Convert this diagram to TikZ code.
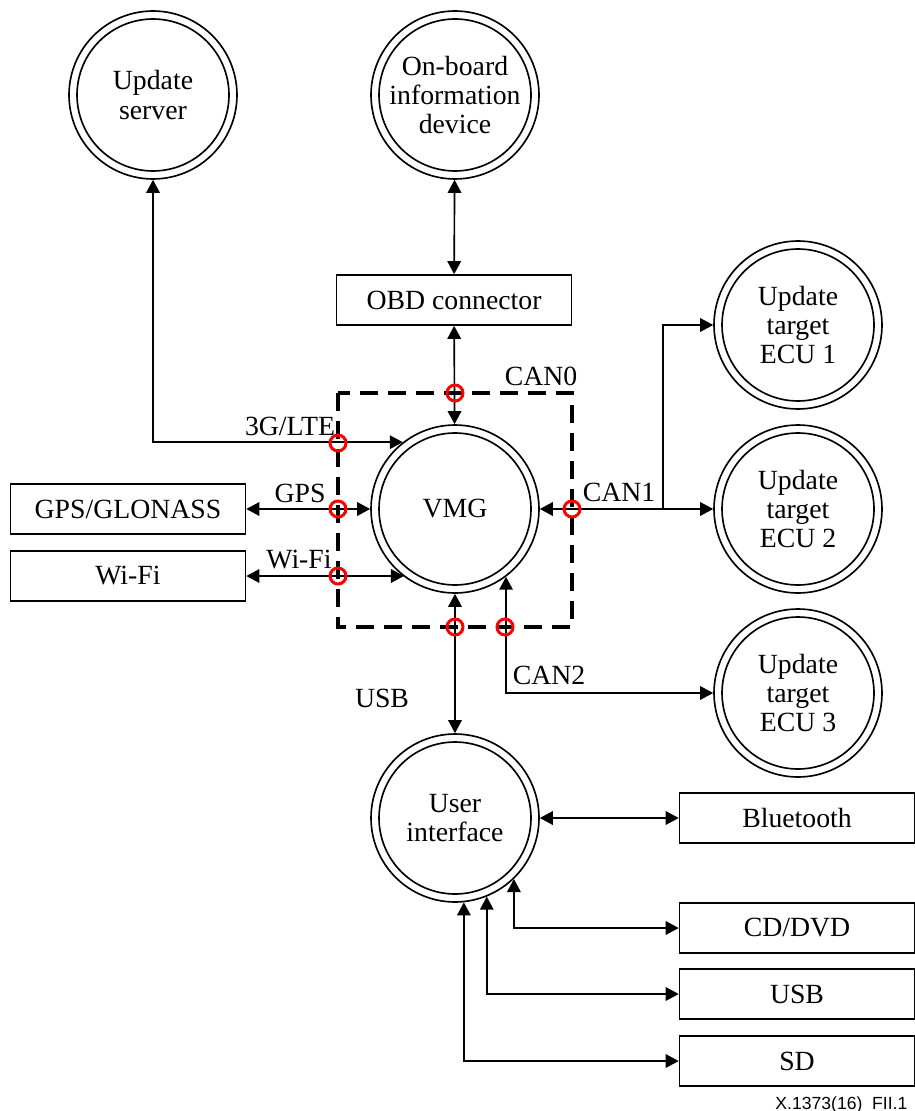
\documentclass[tikz,border=0pt]{standalone}
\usepackage{fontspec}
\setmainfont{Liberation Serif}
\setsansfont{Liberation Sans}
\usetikzlibrary{arrows.meta}
\tikzset{dev/.style={circle, draw, minimum size=3.36cm, inner sep=0pt, align=center},
  port/.style={draw, minimum width=4.7cm, minimum height=1cm, inner sep=0pt},
  zone/.style={line width=0.08cm, dash pattern=on 0.36cm off 0.2cm},
  tap/.style={red, line width=0.06cm}}

\begin{document}
\begin{tikzpicture}[x=0.02cm,y=-0.02cm,line width=0.033cm,>={Triangle[length=0.26cm,width=0.27cm]},font=\fontsize{15.8}{16.6}\selectfont]
\useasboundingbox (0,0) rectangle (915,1111);

% circles
\node[dev] (srv) at (153,95) {Update\\server};
\node[dev] (obdev) at (455,95) {On-board\\information\\device};
\node[dev] (vmg) at (455,509) {VMG};
\node[dev] (ecua) at (798,325) {Update\\target\\ECU 1};
\node[dev] (ecub) at (798,509) {Update\\target\\ECU 2};
\node[dev] (ecuc) at (798,693) {Update\\target\\ECU 3};
\node[dev] (ui) at (455,818) {User\\interface};
\foreach \n in {srv,obdev,vmg,ecua,ecub,ecuc,ui}
{
  \draw (\n.center) circle (1.52cm);
}

% boxes
\node[port] (obd) at (454,300) {OBD connector};
\node[port] (gps) at (128,509) {GPS/GLONASS};
\node[port] (wifi) at (128,576) {Wi-Fi};
\node[port] (bt) at (797,818) {Bluetooth};
\node[port] (cd) at (797,928) {CD/DVD};
\node[port] (usb) at (797,994) {USB};
\node[port] (sd) at (797,1061) {SD};

\draw[zone] (338,393) rectangle (572,627);

% links
\draw[<->] (srv.south) |- (vmg.128);
\draw[<->] (obdev) -- (obd);
\draw[<->] (obd) -- (vmg);
\draw[<->] (gps) -- (vmg);
\draw[<->] (wifi.east) -- (wifi -| vmg.233);
\coordinate (can) at (663,509);
\draw[<->] (vmg) -- (ecub);
\draw[->] (can) |- (ecua);
\draw[<->] (vmg.-53.5) |- (ecuc);
\draw[<->] (vmg) -- (ui);
\draw[<->] (ui) -- (bt);
\draw[<->] (ui.-46) |- (cd);
\draw[<->] (ui.-68) |- (usb);
\draw[<->] (ui.-84) |- (sd);

\node (lcan0) at (541,376) {CAN0};
\node (llte) at (290,426) {3G/LTE};
\node (lgps) at (300,493) {GPS};
\node (lwifi) at (299,560) {Wi-Fi};
\node (lcan1) at (619,492) {CAN1};
\node (lcan2) at (549,675) {CAN2};
\node (lusb) at (382,698) {USB};

\foreach \x/\y in {455/393, 338/443, 338/509, 338/576, 572/509, 455/627, 505/627}
{
  \draw[tap] (\x,\y) circle (0.16cm);
}

\node[anchor=base east, font=\fontsize{10}{12}\sffamily] (fig) at (914,1109) {X.1373(16)\_FII.1};
\end{tikzpicture}
\end{document}
